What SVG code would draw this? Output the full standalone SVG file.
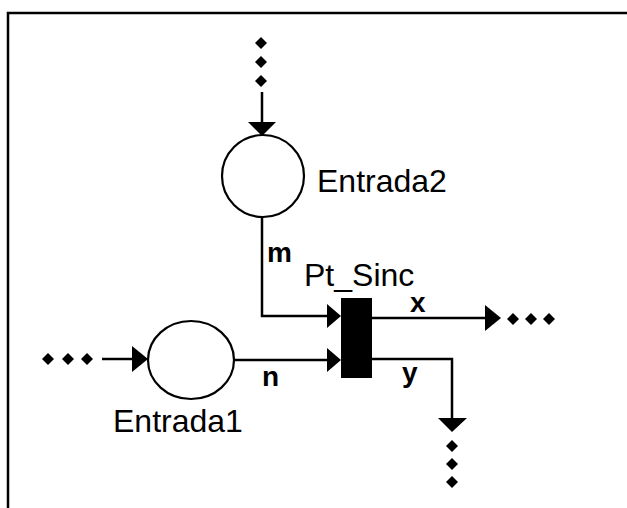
<svg xmlns="http://www.w3.org/2000/svg" width="627" height="508" viewBox="0 0 627 508">
<style>
.ln{fill:none;stroke:#000;stroke-width:2.5}
.ah{fill:#000}
.dm{fill:#000}
.place{fill:#fff;stroke:#000;stroke-width:2.2}
.lbl{font-family:"Liberation Sans",Arial,sans-serif;font-size:32px;fill:#000}
.arc{font-family:"Liberation Sans",Arial,sans-serif;font-size:28px;font-weight:bold;fill:#000}
</style>
<defs>
<polygon id="dia" points="0,-6 6,0 0,6 -6,0"/>
</defs>
<rect width="627" height="508" fill="#fff"/>
<path class="ln" d="M8,508 V13 H627"/>
<g id="connectors">
<use href="#dia" class="dm" x="261" y="43"/>
<use href="#dia" class="dm" x="261" y="62"/>
<use href="#dia" class="dm" x="261" y="81"/>
<path class="ln" d="M262,92 V124"/>
<polygon class="ah" points="248,122 276,122 262,136"/>
<path class="ln" d="M262,217 V316 H329"/>
<polygon class="ah" points="327,304 341,316 327,328"/>
<use href="#dia" class="dm" x="48" y="359"/>
<use href="#dia" class="dm" x="68" y="359"/>
<use href="#dia" class="dm" x="87" y="359"/>
<path class="ln" d="M102,359 H134"/>
<polygon class="ah" points="132,346 148,359 132,372"/>
<path class="ln" d="M234,360 H329"/>
<polygon class="ah" points="327,348 341,360 327,372"/>
<path class="ln" d="M372,318 H487"/>
<polygon class="ah" points="485,305 501,318 485,331"/>
<use href="#dia" class="dm" x="513" y="319"/>
<use href="#dia" class="dm" x="531" y="319"/>
<use href="#dia" class="dm" x="549" y="319"/>
<path class="ln" d="M372,359 H452 V420"/>
<polygon class="ah" points="438,418 467,418 452,432"/>
<use href="#dia" class="dm" x="452" y="446"/>
<use href="#dia" class="dm" x="452" y="464"/>
<use href="#dia" class="dm" x="452" y="482"/>
<text class="arc" x="267" y="262">m</text>
<text class="arc" x="262" y="386">n</text>
<text class="arc" x="410" y="312">x</text>
<text class="arc" x="402" y="382">y</text>
</g>
<g id="Entrada2">
<circle class="place" cx="263" cy="176" r="41"/>
<text class="lbl" x="317" y="192">Entrada2</text>
</g>
<g id="Entrada1">
<ellipse class="place" cx="191" cy="360" rx="43" ry="39"/>
<text class="lbl" x="113" y="432">Entrada1</text>
</g>
<g id="Pt_Sinc">
<rect x="341" y="298" width="31" height="80" fill="#000"/>
<text class="lbl" x="304" y="286">Pt_Sinc</text>
</g>
</svg>
